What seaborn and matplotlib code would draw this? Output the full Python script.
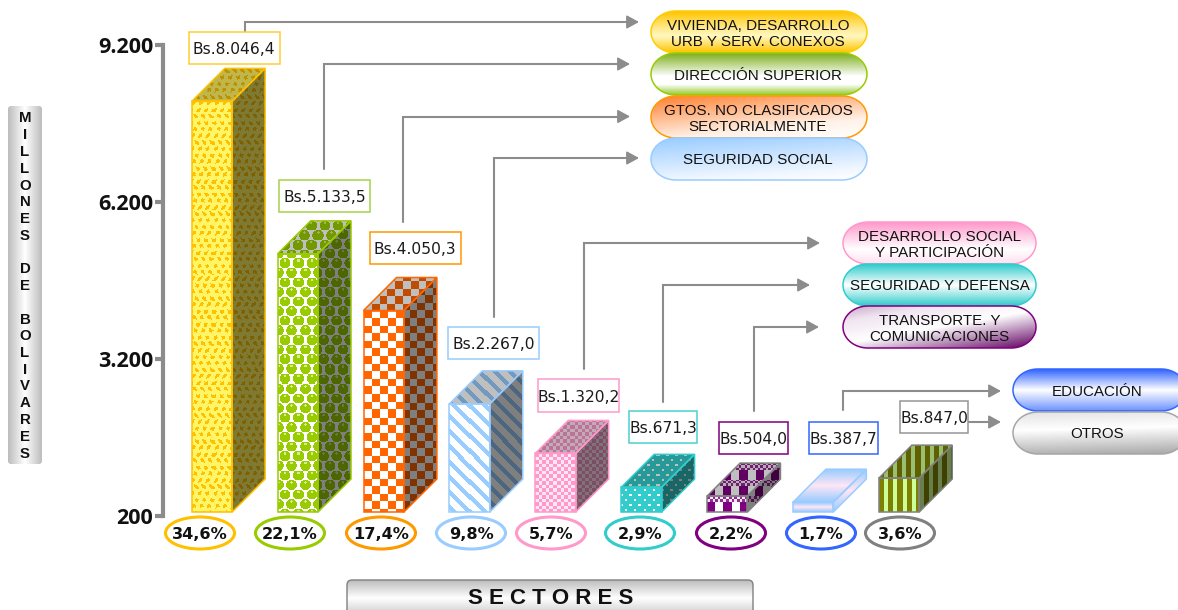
import numpy as np
import matplotlib
matplotlib.use("Agg")
import matplotlib.pyplot as plt
import seaborn as sns
from matplotlib.patches import Polygon, FancyBboxPatch, Ellipse, Rectangle
from matplotlib.colors import to_rgb

# ---------- data ----------
sectors = ["Vivienda", "Direccion", "Gtos", "SegSocial", "DesSocial", "Defensa", "Transporte", "Educacion", "Otros"]
values = [8046.4, 5133.5, 4050.3, 2267.0, 1320.2, 671.3, 504.0, 387.7, 847.0]
percents = ["34,6%", "22,1%", "17,4%", "9,8%", "5,7%", "2,9%", "2,2%", "1,7%", "3,6%"]
y_ticks = [200, 3200, 6200, 9200]
y_tick_labels = ["200", "3.200", "6.200", "9.200"]
pill_texts = ["VIVIENDA, DESARROLLO\nURB Y SERV. CONEXOS", "DIRECCIÓN SUPERIOR",
              "GTOS. NO CLASIFICADOS\nSECTORIALMENTE", "SEGURIDAD SOCIAL",
              "DESARROLLO SOCIAL\nY PARTICIPACIÓN", "SEGURIDAD Y DEFENSA",
              "TRANSPORTE. Y\nCOMUNICACIONES", "EDUCACIÓN", "OTROS"]
y_title = "M\nI\nL\nL\nO\nN\nE\nS\n \nD\nE\n \nB\nO\nL\nI\nV\nA\nR\nE\nS"
x_title = "S E C T O R E S"

# ---------- styles ----------
edge_colors = ["#FFC000", "#99CC00", "#FF6600", "#99CCFF", "#FF99CC", "#33CCCC", "#808080", "#99CCFF", "#808080"]
box_colors = ["#FFCC33", "#A6D24A", "#FF9900", "#99CCFF", "#FF99CC", "#4CD0D0", "#800080", "#3366FF", "#969696"]
oval_colors = ["#FFC000", "#99CC00", "#FF9900", "#99CCFF", "#FF99CC", "#33CCCC", "#800080", "#3366FF", "#808080"]
pill_edges = ["#FFCC00", "#99CC00", "#FF9900", "#99CCFF", "#FF99CC", "#33CCCC", "#800080", "#3366FF", "#A6A6A6"]
GRAY = "#8C8C8C"
W, H = 1178, 610
DEPTH = 33

sns.set_theme(style="white")
fig = plt.figure(figsize=(W / 100, H / 100), dpi=100, facecolor="white")


def rect(l, t, r, b):
    return [l / W, 1 - b / H, (r - l) / W, (b - t) / H]


# ---------- value axis ----------
ax_y = fig.add_axes(rect(163, 45, 400, 516), zorder=1)
ax_y.set_ylim(200, 9200)
ax_y.set_yticks(y_ticks, y_tick_labels, fontfamily="Open Sans", fontweight="bold", fontsize=15.5, color="#111111")
ax_y.set_xticks([])
ax_y.tick_params(axis="y", left=True, length=6, width=3, color=GRAY, pad=1)
ax_y.patch.set_alpha(0)
for s in ["top", "right", "bottom"]:
    ax_y.spines[s].set_visible(False)
ax_y.spines["left"].set_linewidth(3)
ax_y.spines["left"].set_color(GRAY)

# ---------- bars (front faces come from seaborn, 3D faces from their geometry) ----------
ax = fig.add_axes(rect(169, 41, 942, 512), zorder=2)
sns.barplot(x=sectors, y=values, hue=sectors, order=sectors, palette=edge_colors, width=0.47,
            legend=False, saturation=1, ax=ax)
ax.set_xlim(-0.5, 8.5)
ax.set_ylim(200, 9200)
ax.set_axis_off()


def mix(mask, c1, c2):
    return np.where(mask[..., None], np.array(to_rgb(c1)), np.array(to_rgb(c2)))


def ramp(t, positions, colors):
    rgb = np.array([to_rgb(c) for c in colors])
    return np.stack([np.interp(t, positions, rgb[:, k]) for k in range(3)], axis=-1)


def tex_yellow(X, Y):
    Yw = Y + 0.8 * np.sin(X * 0.83)
    row = np.floor(Yw / 6.5)
    Xw = X + row * 3.4 + 0.8 * np.sin(Y * 0.71)
    return mix((Xw % 7.5 < 3.6) & (Yw % 6.5 < 3.6), "#FFC000", "#FFF566")


def tex_green(X, Y):
    row = np.round(Y / 9.6)
    fx = (X + row * 6.5 + 6.5) % 13 - 6.5
    fy = Y - row * 9.6
    ball = fx ** 2 + fy ** 2 < 28
    out = mix(ball, "#99CC00", "#FFFFFF")
    out[ball & ((fx ** 2 + (fy + 2.6) ** 2) < 1.6)] = to_rgb("#D6EC8A")
    return out


def tex_orange(X, Y):
    return mix((np.floor(X / 7.6) + np.floor(Y / 7.6)) % 2 == 0, "#FF6600", "#FFFFFF")


def tex_blue(X, Y):
    return mix((X - Y) % 15 < 5.5, "#99CCFF", "#FFFFFF")


def tex_pink(X, Y):
    return mix((np.floor(X / 3.5) + np.floor(Y / 3.5)) % 2 == 0, "#FF99CC", "#FFE6F2")


def tex_teal(X, Y):
    row = np.floor(Y / 5)
    fx = (X + row * 4.5) % 9 - 4.5
    fy = Y % 5 - 2.5
    return mix(fx ** 2 + fy ** 2 < 2, "#FFFFFF", "#33CCCC")


def tex_purple(X, Y):
    small = (np.floor(X / 2.6) + np.floor(Y / 2.6)) % 2 == 0
    big = (np.floor(X / 8) % 2 == 0)
    base = mix(np.where(Y % 16 < 6, small, big), "#800080", "#FFFFFF")
    base[Y % 16 < 6] = base[Y % 16 < 6] * .75 + np.array(to_rgb("#D9A6D9")) * .25
    return base


def tex_grad(X, Y):
    t = (Y - Y.min()) / max(np.ptp(Y), 1)
    return ramp(t, [0, .5, 1], ["#99CCFF", "#FFE6F5", "#99CCFF"])


def tex_olive(X, Y):
    return mix(X % 9 < 4.5, "#808000", "#CCFF99")


textures = [tex_yellow, tex_green, tex_orange, tex_blue, tex_pink, tex_teal, tex_purple, tex_grad, tex_olive]
side_shade = [.5, .5, .5, .5, .5, .5, .5, 1, .5]
top_shade = [.75, .75, .75, .75, .75, .75, .75, 1, .75]

sx = ax.transData.transform((1, 0))[0] - ax.transData.transform((0, 0))[0]
sy = ax.transData.transform((0, 1000))[1] - ax.transData.transform((0, 0))[1]
dx, dy = DEPTH / sx, DEPTH * 1000 / sy

for k, (bar, val) in enumerate(zip(ax.patches, values)):
    bar.set_y(200)
    bar.set_height(val - 200)
    x0, x1 = bar.get_x(), bar.get_x() + bar.get_width()
    y0, y1 = 200, val
    faces = [
        ([(x0, y0), (x1, y0), (x1, y1), (x0, y1)], 1),
        ([(x1, y0), (x1 + dx, y0 + dy), (x1 + dx, y1 + dy), (x1, y1)], side_shade[k]),
        ([(x0, y1), (x1, y1), (x1 + dx, y1 + dy), (x0 + dx, y1 + dy)], top_shade[k]),
    ]
    ox, oy = ax.transData.transform((x0, y1))
    for pts, shade in faces:
        pts = np.array(pts)
        a = ax.transData.transform((pts[:, 0].min(), pts[:, 1].max()))
        b = ax.transData.transform((pts[:, 0].max(), pts[:, 1].min()))
        nx, ny = max(int(round(b[0] - a[0])), 2), max(int(round(a[1] - b[1])), 2)
        X, Y = np.meshgrid(a[0] - ox + np.arange(nx), (oy - a[1]) + np.arange(ny))
        img = np.clip(textures[k](X, Y) * shade, 0, 1)
        poly = Polygon(pts, closed=True, facecolor="none", edgecolor=edge_colors[k],
                       linewidth=1.1, clip_on=False, zorder=4, joinstyle="miter")
        ax.add_patch(poly)
        im = ax.imshow(img, extent=(pts[:, 0].min(), pts[:, 0].max(), pts[:, 1].min(), pts[:, 1].max()),
                       aspect="auto", interpolation="nearest", zorder=3, origin="upper")
        im.set_clip_path(poly)
        im.set_clip_box(fig.bbox)
    bar.set_visible(False)
ax.set_xlim(-0.5, 8.5)
ax.set_ylim(200, 9200)

# ---------- overlay in pixel space for callouts ----------
ov = fig.add_axes([0, 0, 1, 1], zorder=3)
ov.set_axis_off()
ov.patch.set_alpha(0)


def gradient_patch(patch, ext, positions, colors, xw=0.0):
    l, t, r, b = ext
    nx, ny = max(int(r - l), 2), max(int(b - t), 2)
    xx, yy = np.meshgrid(np.linspace(0, 1, nx), np.linspace(0, 1, ny))
    tt = yy * (1 - xw) + xx * xw
    ov.add_patch(patch)
    im = ov.imshow(ramp(tt, positions, colors), extent=(l, r, b, t), origin="upper", aspect="auto",
                   zorder=patch.get_zorder() - .001, interpolation="bilinear")
    im.set_clip_path(patch)


def capsule(l, t, r, b, rx, **kw):
    ry = (b - t) / 2
    cy = (t + b) / 2
    th = np.linspace(-np.pi / 2, np.pi / 2, 60)
    right = np.column_stack([r - rx + rx * np.cos(th), cy + ry * np.sin(th)])
    left = np.column_stack([l + rx - rx * np.cos(th[::-1]), cy + ry * np.sin(th[::-1])])
    return Polygon(np.vstack([right, left]), closed=True, **kw)


# Y title panel
p = FancyBboxPatch((8, 106), 34, 358, boxstyle="round,pad=0,rounding_size=3", facecolor="none",
                   edgecolor="none", zorder=2)
ov.add_patch(p)
xx = np.linspace(0, 1, 34)[None, :].repeat(4, axis=0)
im = ov.imshow(ramp(xx, [0, .5, 1], ["#BEBEBE", "#FFFFFF", "#BEBEBE"]), extent=(8, 42, 464, 106), aspect="auto",
               zorder=1.9, origin="upper")
im.set_clip_path(p)
ov.text(25, 286, y_title, ha="center", va="center", fontfamily="Liberation Sans", fontweight="bold",
        fontsize=10.8, linespacing=1.25, color="#111111", zorder=3)

# X title panel
p = FancyBboxPatch((347, 580), 406, 40, boxstyle="round,pad=0,rounding_size=5", facecolor="none",
                   edgecolor="#808080", linewidth=1, zorder=2)
gradient_patch(p, (347, 580, 753, 620), [0, .45, 1], ["#BEBEBE", "#FFFFFF", "#BEBEBE"])
ov.text(551, 598.5, x_title, ha="center", va="center", fontfamily="Liberation Sans", fontweight="bold",
        fontsize=16, color="#111111", zorder=3)

# connectors
connectors = [
    [(245, 32), (245, 22), (639, 22)], [(324, 169), (324, 64), (630, 64)],
    [(403, 222), (403, 116.5), (630, 116.5)], [(494, 317), (494, 158), (639, 158)],
    [(584, 369), (584, 243), (820, 243)], [(663, 402), (663, 285), (810, 285)],
    [(753.5, 411), (753.5, 327), (819, 327)], [(843, 410), (843, 391), (1001, 391)],
    [(968, 422), (1001, 422)],
]
for path in connectors:
    xs, ys = zip(*path)
    ov.plot(xs[:-1] + (xs[-1] - 8,), ys, color=GRAY, lw=1.5, solid_joinstyle="miter", zorder=2)
    ov.annotate("", xy=path[-1], xytext=(path[-1][0] - 9, path[-1][1]),
                arrowprops=dict(arrowstyle="-|>,head_length=0.62,head_width=0.34", color=GRAY, lw=1.2,
                                shrinkA=0, shrinkB=0), zorder=2)

# value boxes
box_ext = [(188.5, 32, 279.5, 64), (279, 180, 370, 212), (369.5, 232, 460.5, 264), (448, 327, 539, 359),
           (538, 379, 619, 412), (629, 411, 697, 443), (719, 422, 788, 454), (809, 422, 878, 454),
           (900, 401, 968, 433)]
for (l, t, r, b), v, c in zip(box_ext, values, box_colors):
    ov.add_patch(Rectangle((l, t), r - l, b - t, facecolor="white", edgecolor=c, linewidth=1.1, zorder=5))
    label = "Bs." + f"{v:,.1f}".replace(",", "X").replace(".", ",").replace("X", ".")
    ov.text((l + r) / 2, (t + b) / 2 + 1.5, label, ha="center", va="center", fontfamily="DejaVu Sans",
            fontsize=11.2, color="#1a1a1a", zorder=6)

# percent ovals
oval_x = [200, 290, 381, 471, 551, 640, 731, 821, 900]
for cx, txt, c in zip(oval_x, percents, oval_colors):
    ov.add_patch(Ellipse((cx, 533), 69, 32, facecolor="white", edgecolor=c, linewidth=2.2, zorder=5))
    ov.text(cx, 534.5, txt, ha="center", va="center", fontfamily="DejaVu Sans", fontweight="bold",
            fontsize=11.6, color="#111111", zorder=6)

# sector pills
pill_ext = [(651, 11, 867, 53), (651, 53, 867, 95), (651, 96, 867, 138), (651, 138, 867, 180),
            (843, 222, 1036, 264), (843, 264, 1036, 306), (843, 306, 1036, 348),
            (1013, 369, 1186, 411), (1013, 412, 1186, 454)]
pill_grad = [
    ([0, .4, .6, 1], ["#FFC400", "#FFE98C", "#FFF8C0", "#FFC400"], 0),
    ([0, .55, .75, 1], ["#7FB020", "#FFFFFF", "#FFFFFF", "#99CC33"], 0),
    ([0, .7, 1], ["#FF8030", "#FFF2E8", "#FFFFFF"], .35),
    ([0, .8, 1], ["#99CCFF", "#F2F8FF", "#FFFFFF"], .25),
    ([0, .65, 1], ["#FF99CC", "#FFFFFF", "#FFE0F0"], 0),
    ([0, .5, 1], ["#33CCCC", "#FFFFFF", "#33CCCC"], 0),
    ([0, .2, .5, 1], ["#C8A8C8", "#F0E4F0", "#FFFFFF", "#600060"], .45),
    ([0, .5, 1], ["#3366FF", "#FFFFFF", "#6F94FF"], 0),
    ([0, .4, 1], ["#E4E4E4", "#FFFFFF", "#A8A8A8"], .1),
]
for k, ((l, t, r, b), txt) in enumerate(zip(pill_ext, pill_texts)):
    p = capsule(l, t, r, b, 25, facecolor="none", edgecolor=pill_edges[k], linewidth=1.1, zorder=4 + k * .01)
    pos, cols, xw = pill_grad[k]
    gradient_patch(p, (l, t, r, b), pos, cols, xw)
    cx = (l + r) / 2 + (-1 if r < 900 else 0 if r < 1100 else -2.5)
    cy = (t + b) / 2 + (1.5 if ("Ó" in txt and "\n" not in txt) else 2 if "\n" in txt else .5)
    ov.text(cx, cy, txt, ha="center", va="center", fontfamily="Liberation Sans", fontsize=10.9,
            linespacing=1.27, color="#111111", zorder=6)

ov.set_xlim(0, W)
ov.set_ylim(H, 0)
fig.savefig("out.png", dpi=100)
